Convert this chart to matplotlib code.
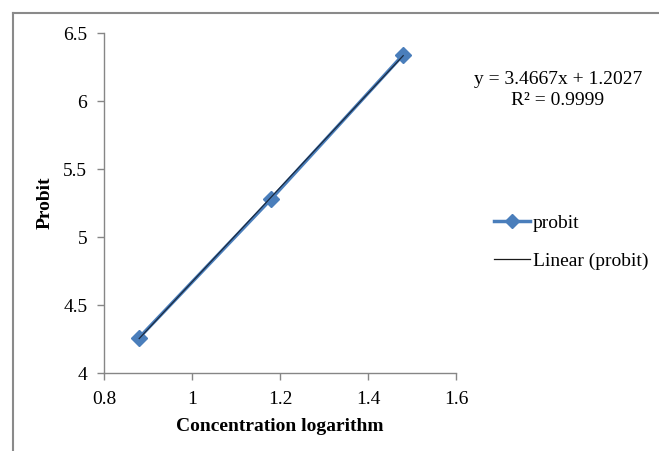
import matplotlib
matplotlib.use("Agg")
import matplotlib.pyplot as plt
from matplotlib.lines import Line2D
import numpy as np

plt.rcParams['font.family'] = ['Liberation Serif', 'DejaVu Serif']

conc_log = [0.88, 1.18, 1.48]
probit = [4.26, 5.28, 6.34]
x_ticks = [0.8, 1.0, 1.2, 1.4, 1.6]
x_tick_labels = ["0.8", "1", "1.2", "1.4", "1.6"]
y_ticks = [4, 4.5, 5, 5.5, 6, 6.5]
y_tick_labels = ["4", "4.5", "5", "5.5", "6", "6.5"]
equation_text = "y = 3.4667x + 1.2027"
r2_text = "R² = 0.9999"

W, H = 659, 451
fig = plt.figure(figsize=(W / 100, H / 100), dpi=100)
ax = fig.add_axes([104 / W, 1 - 373 / H, (456 - 104) / W, (373 - 33) / H])

series_color = '#4A7EBB'
ax.plot(conc_log, probit, color=series_color, lw=2.5, marker='D', ms=8.5,
        mec=series_color, mfc=series_color, zorder=3, label='probit')

slope, intercept = np.polyfit(conc_log, probit, 1)
xs = np.array([min(conc_log), max(conc_log)])
ax.plot(xs, slope * xs + intercept, color='#1a2a40', lw=0.9, zorder=4,
        label='Linear (probit)')

ax.set_xlim(0.8, 1.6)
ax.set_ylim(4, 6.5)
ax.set_xticks(x_ticks)
ax.set_xticklabels(x_tick_labels)
ax.set_yticks(y_ticks)
ax.set_yticklabels(y_tick_labels)
for s in ['top', 'right']:
    ax.spines[s].set_visible(False)
for s in ['left', 'bottom']:
    ax.spines[s].set_color('#868686')
    ax.spines[s].set_linewidth(1.0)
ax.tick_params(axis='both', colors='#868686', labelcolor='black', length=5,
               width=1.0, labelsize=14, direction='out')
ax.tick_params(axis='y', pad=7)
ax.tick_params(axis='x', pad=8)
ax.set_xlabel('Concentration logarithm', fontsize=14, fontweight='bold', labelpad=7)
ax.set_ylabel('Probit', fontsize=14, fontweight='bold', labelpad=7)

fig.text(558 / W, 1 - 79 / H, equation_text, ha='center', va='center', fontsize=14)
fig.text(558 / W, 1 - 101 / H, r2_text, ha='center', va='center', fontsize=14)

handles = [Line2D([], [], color=series_color, lw=2.5, marker='D', ms=7,
                  mec=series_color, mfc=series_color),
           Line2D([], [], color='#1a1a1a', lw=0.9)]
fig.legend(handles, ['probit', 'Linear (probit)'], loc='upper left',
           bbox_to_anchor=(494 / W, 1 - 214 / H), frameon=False, fontsize=14,
           handlelength=1.85, handletextpad=0.15, labelspacing=1.05,
           borderpad=0.0, borderaxespad=0.0)

# outer frame (top and left edges visible)
fig.add_artist(Line2D([12.5 / W, 1.0], [1 - 12.5 / H, 1 - 12.5 / H],
                      transform=fig.transFigure, color='#8a8a8a', lw=1.5))
fig.add_artist(Line2D([12.5 / W, 12.5 / W], [0, 1 - 12.5 / H],
                      transform=fig.transFigure, color='#8a8a8a', lw=1.5))

fig.savefig('out.png', dpi=100)
